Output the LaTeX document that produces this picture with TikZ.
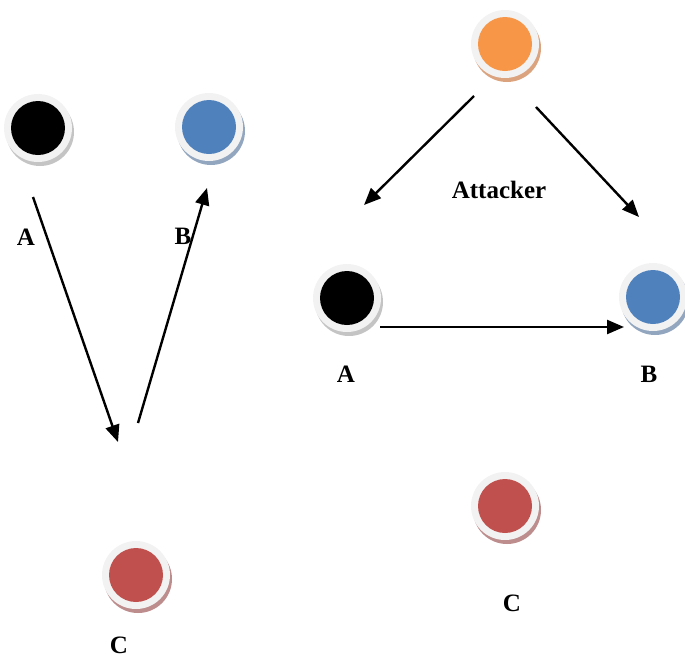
\documentclass[tikz,border=0pt]{standalone}
\usepackage{fontspec}
\setmainfont{Liberation Serif}
\usetikzlibrary{arrows.meta}
\definecolor{cBlack}{HTML}{000000}
\definecolor{cBlue}{HTML}{4F81BD}
\definecolor{cOrange}{HTML}{F79646}
\definecolor{cRed}{HTML}{C0504D}
\definecolor{sBlack}{HTML}{C4C4C4}
\definecolor{sBlue}{HTML}{92A6BF}
\definecolor{sOrange}{HTML}{DBA37E}
\definecolor{sRed}{HTML}{BD8C8C}
\definecolor{ring}{HTML}{F2F2F2}
\tikzset{
  lbl/.style={font=\bfseries\fontsize{25}{27}\selectfont, inner sep=0pt},
  conn/.style={line width=2.4pt, -{Triangle[length=17pt,width=14pt]}},
  pics/dot/.style 2 args={code={
    \fill[#2] (2,4) circle[radius=34];
    \fill[ring] (0,0) circle[radius=34];
    \fill[#1] (0,0) circle[radius=27];
  }}
}
\begin{document}
\begin{tikzpicture}[x=1pt,y=-1pt]
\useasboundingbox (0,0) rectangle (685,659);
% left diagram
\pic at (38,128) {dot={cBlack}{sBlack}};
\pic at (209,127) {dot={cBlue}{sBlue}};
\pic at (136,575) {dot={cRed}{sRed}};
\node[lbl] (la) at (26,237) {A};
\node[lbl] (lb) at (183,236) {B};
\node[lbl] (lc) at (119,645) {C};
\coordinate (l1s) at (33,197);
\coordinate (l1e) at (118,442);
\coordinate (l2s) at (138,423);
\coordinate (l2e) at (207,188);
\draw[conn] (l1s) -- (l1e);
\draw[conn] (l2s) -- (l2e);
% right diagram
\pic at (505,44) {dot={cOrange}{sOrange}};
\pic at (347,298) {dot={cBlack}{sBlack}};
\pic at (653,297) {dot={cBlue}{sBlue}};
\pic at (505,506) {dot={cRed}{sRed}};
\node[lbl] (att) at (499,190) {Attacker};
\node[lbl] (ra) at (346,374) {A};
\node[lbl] (rb) at (649,374) {B};
\node[lbl] (rc) at (512,603) {C};
\coordinate (r1s) at (474,96);
\coordinate (r1e) at (364,205);
\coordinate (r2s) at (536,107);
\coordinate (r2e) at (639,217);
\coordinate (r3s) at (380,327);
\coordinate (r3e) at (624,327);
\draw[conn] (r1s) -- (r1e);
\draw[conn] (r2s) -- (r2e);
\draw[conn] (r3s) -- (r3e);
\end{tikzpicture}
\end{document}
